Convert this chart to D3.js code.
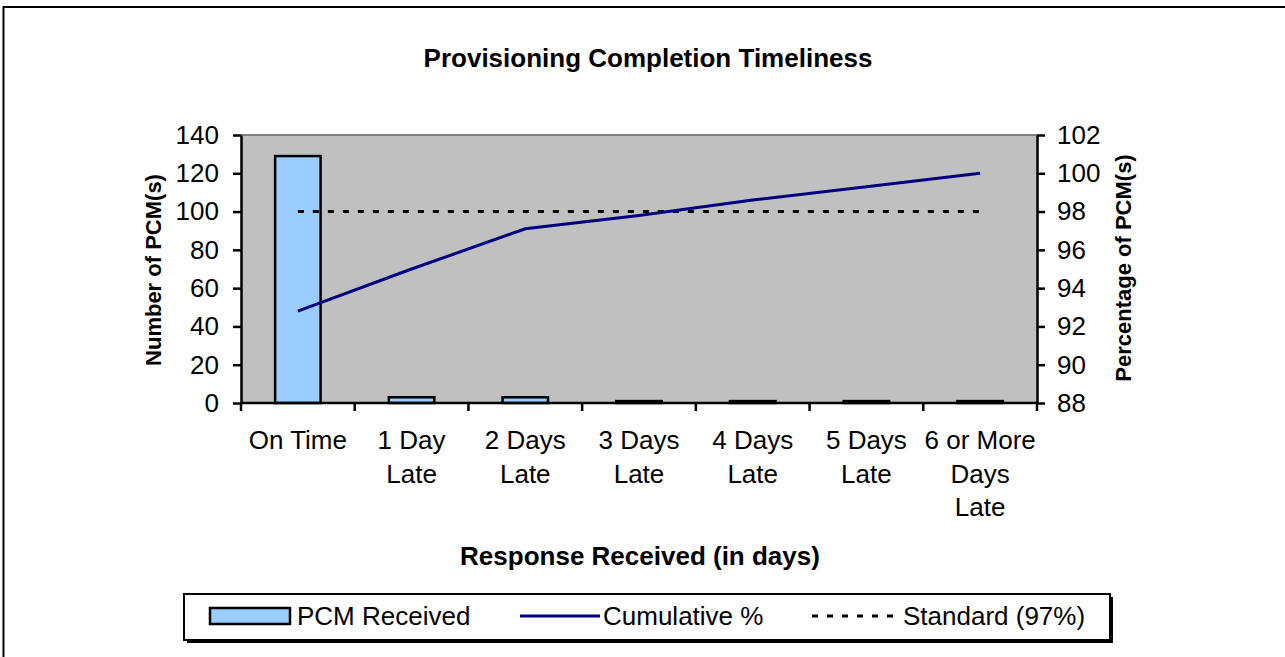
<!DOCTYPE html>
<html><head><meta charset="utf-8">
<script src="https://cdn.jsdelivr.net/npm/d3@7"></script>
<style>body{margin:0;background:#fff}svg{display:block}text{font-family:"Liberation Sans",Arial,sans-serif}</style>
</head><body><svg id="c" width="1285" height="657"></svg>
<script>
const categories = [["On Time"],["1 Day","Late"],["2 Days","Late"],["3 Days","Late"],["4 Days","Late"],["5 Days","Late"],["6 or More","Days","Late"]];
const pcmReceived = [129, 3, 3, 1, 1, 1, 1];
const cumulativePct = [92.8, 95.0, 97.1, 97.8, 98.6, 99.3, 100];
const standardPct = [98, 98, 98, 98, 98, 98, 98];
const leftTicks = [0,20,40,60,80,100,120,140];
const rightTicks = [88,90,92,94,96,98,100,102];
const title = "Provisioning Completion Timeliness";
const xTitle = "Response Received (in days)";
const yLeftTitle = "Number of PCM(s)";
const yRightTitle = "Percentage of PCM(s)";
const legendItems = ["PCM Received","Cumulative %","Standard (97%)"];

const svg = d3.select("#c");
const L=241, R=1037, T=135, B=403;
const idx = categories.map((d,i)=>i);
const x = d3.scaleBand().domain(idx).range([L,R]).paddingInner(0).paddingOuter(0);
const yL = d3.scaleLinear().domain([0,140]).range([B,T]);
const yR = d3.scaleLinear().domain([88,102]).range([B,T]);

// outer border
svg.append("rect").attr("x",3.5).attr("y",7).attr("width",1400).attr("height",800)
  .attr("fill","#fff").attr("stroke","#000").attr("stroke-width",2);

// plot area
svg.append("rect").attr("x",L).attr("y",T).attr("width",R-L).attr("height",B-T).attr("fill","#c0c0c0");
svg.append("line").attr("x1",L).attr("x2",R).attr("y1",T).attr("y2",T).attr("stroke","#808080").attr("stroke-width",2);

// bars
const bw = x.bandwidth()*0.4;
svg.selectAll("rect.bar").data(pcmReceived).join("rect").attr("class","bar")
  .attr("x",(d,i)=>x(i)+x.bandwidth()/2-bw/2).attr("width",bw)
  .attr("y",d=>yL(d)).attr("height",d=>B-yL(d))
  .attr("fill","#99ccff").attr("stroke","#000").attr("stroke-width",2.5);

// standard line
svg.append("path").datum(standardPct)
  .attr("d",d3.line().x((d,i)=>x(i)+x.bandwidth()/2).y(d=>yR(d)))
  .attr("fill","none").attr("stroke","#000").attr("stroke-width",3).attr("stroke-dasharray","6,9");
// cumulative line
svg.append("path").datum(cumulativePct)
  .attr("d",d3.line().x((d,i)=>x(i)+x.bandwidth()/2).y(d=>yR(d)))
  .attr("fill","none").attr("stroke","#000080").attr("stroke-width",3);

// axes
const gl = svg.append("g").attr("transform",`translate(${L},0)`)
  .call(d3.axisLeft(yL).tickValues(leftTicks).tickSize(8).tickPadding(14).tickSizeOuter(0));
const gr = svg.append("g").attr("transform",`translate(${R},0)`)
  .call(d3.axisRight(yR).tickValues(rightTicks).tickSize(8).tickPadding(12).tickSizeOuter(0));
[gl,gr].forEach(g=>{
  g.select(".domain").attr("stroke","#000").attr("stroke-width",2.5);
  g.selectAll(".tick line").attr("stroke","#000").attr("stroke-width",2.5);
  g.selectAll(".tick text").attr("font-size",26).attr("fill","#000").attr("font-family","Liberation Sans, Arial");
});
// x axis
const boundaries = idx.map(i=>x(i)).concat([R]);
svg.append("line").attr("x1",L).attr("x2",R+1).attr("y1",B).attr("y2",B).attr("stroke","#000").attr("stroke-width",2.5);
svg.selectAll("line.xt").data(boundaries).join("line").attr("class","xt")
  .attr("x1",d=>d).attr("x2",d=>d).attr("y1",B).attr("y2",B+8).attr("stroke","#000").attr("stroke-width",2.5);
const xl = svg.selectAll("text.xl").data(categories).join("text").attr("class","xl")
  .attr("x",(d,i)=>x(i)+x.bandwidth()/2).attr("y",449).attr("text-anchor","middle").attr("font-size",26);
xl.selectAll("tspan").data(d=>d).join("tspan")
  .attr("x",function(){return this.parentNode.getAttribute("x");})
  .attr("dy",(d,j)=>j===0?0:33.5).text(d=>d);

// titles
svg.append("text").attr("x",648).attr("y",67).attr("text-anchor","middle").attr("font-size",26).attr("font-weight","bold").text(title);
svg.append("text").attr("x",640).attr("y",565).attr("text-anchor","middle").attr("font-size",26).attr("font-weight","bold").text(xTitle);
svg.append("text").attr("transform","translate(161,270) rotate(-90)").attr("text-anchor","middle").attr("font-size",22).attr("font-weight","bold").text(yLeftTitle);
svg.append("text").attr("transform","translate(1131,268) rotate(-90)").attr("text-anchor","middle").attr("font-size",22).attr("font-weight","bold").text(yRightTitle);

// legend
svg.append("rect").attr("x",187).attr("y",597).attr("width",926).attr("height",46).attr("fill","#000");
svg.append("rect").attr("x",184).attr("y",594).attr("width",926).attr("height",46).attr("fill","#fff").attr("stroke","#000").attr("stroke-width",2);
const ly = 616;
svg.append("rect").attr("x",210).attr("y",608).attr("width",80).attr("height",16).attr("fill","#99ccff").attr("stroke","#000").attr("stroke-width",2.5);
svg.append("line").attr("x1",520).attr("x2",600).attr("y1",ly).attr("y2",ly).attr("stroke","#000080").attr("stroke-width",3);
svg.append("line").attr("x1",812).attr("x2",900).attr("y1",ly).attr("y2",ly).attr("stroke","#000").attr("stroke-width",3).attr("stroke-dasharray","6,9");
const lx = [297,603,903];
svg.selectAll("text.lg").data(legendItems).join("text").attr("class","lg")
  .attr("x",(d,i)=>lx[i]).attr("y",ly+9).attr("font-size",26).text(d=>d);
</script></body></html>
